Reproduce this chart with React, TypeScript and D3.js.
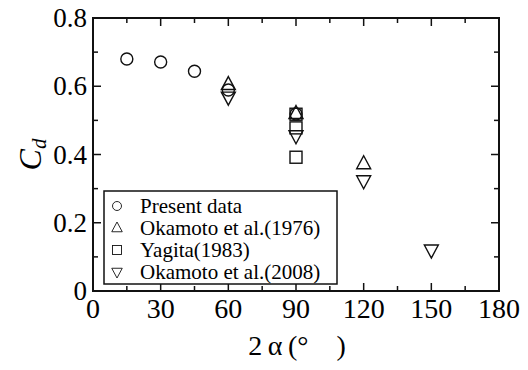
import React, { useEffect, useRef } from 'react';
import * as d3 from 'd3';

// 2alpha (deg) and Cd for each data set
const presentX = [15, 30, 45, 60, 90];
const presentY = [0.68, 0.671, 0.644, 0.589, 0.519];
const oka1976X = [60, 90, 120];
const oka1976Y = [0.605, 0.52, 0.373];
const yagitaX = [90, 90, 90];
const yagitaY = [0.518, 0.478, 0.392];
const oka2008X = [60, 90, 120, 150];
const oka2008Y = [0.568, 0.455, 0.323, 0.12];

const xTicks = [0, 30, 60, 90, 120, 150, 180];
const yTicks = [0, 0.2, 0.4, 0.6, 0.8];
const legendLabels = ['Present data', 'Okamoto et al.(1976)', 'Yagita(1983)', 'Okamoto et al.(2008)'];
const shapes = ['circle', 'up', 'square', 'down'];

const App = () => {
    const svgRef = useRef(null);
    const width = 528;
    const height = 370;
    const left = 93, right = 499, top = 18, bottom = 291;

    useEffect(() => {
        const svg = d3.select(svgRef.current);
        svg.selectAll('*').remove();

        const x = d3.scaleLinear().domain([0, 180]).range([left, right]);
        const y = d3.scaleLinear().domain([0, 0.8]).range([bottom, top]);

        const font = 'Liberation Serif';

        const drawMarker = (g, shape, cx, cy) => {
            if (shape === 'circle') {
                g.append('circle').attr('cx', cx).attr('cy', cy).attr('r', 6);
            } else if (shape === 'square') {
                g.append('rect').attr('x', cx - 6).attr('y', cy - 6).attr('width', 12).attr('height', 12);
            } else if (shape === 'up') {
                g.append('path').attr('d', `M${cx},${cy - 8}L${cx + 7},${cy + 5}L${cx - 7},${cy + 5}Z`);
            } else {
                g.append('path').attr('d', `M${cx},${cy + 8}L${cx + 7},${cy - 5}L${cx - 7},${cy - 5}Z`);
            }
        };

        // minor + major ticks on all sides, pointing inward
        const ticks = svg.append('g').attr('stroke', '#111').attr('stroke-width', 1.5);
        d3.range(0, 181, 15).forEach(v => {
            const len = v % 30 === 0 ? 8 : 5;
            ticks.append('line').attr('x1', x(v)).attr('x2', x(v)).attr('y1', bottom).attr('y2', bottom - len);
            ticks.append('line').attr('x1', x(v)).attr('x2', x(v)).attr('y1', top).attr('y2', top + len);
        });
        d3.range(0, 9).forEach(i => {
            const v = i * 0.1;
            const len = i % 2 === 0 ? 8 : 5;
            ticks.append('line').attr('x1', left).attr('x2', left + len).attr('y1', y(v)).attr('y2', y(v));
            ticks.append('line').attr('x1', right).attr('x2', right - len).attr('y1', y(v)).attr('y2', y(v));
        });

        svg.append('rect')
            .attr('x', left).attr('y', top)
            .attr('width', right - left).attr('height', bottom - top)
            .attr('fill', 'none').attr('stroke', '#111').attr('stroke-width', 2);

        svg.append('g').selectAll('text').data(xTicks).enter().append('text')
            .attr('x', d => x(d)).attr('y', bottom + 27)
            .attr('text-anchor', 'middle')
            .attr('font-family', font).attr('font-size', 28)
            .text(d => d);

        svg.append('g').selectAll('text').data(yTicks).enter().append('text')
            .attr('x', left - 6).attr('y', d => y(d) + 9)
            .attr('text-anchor', 'end')
            .attr('font-family', font).attr('font-size', 27)
            .text(d => d === 0 ? '0' : d.toFixed(1));

        // axis titles
        const yl = svg.append('text')
            .attr('transform', `translate(41,${(top + bottom) / 2}) rotate(-90)`)
            .attr('text-anchor', 'middle')
            .attr('font-family', font).attr('font-size', 32);
        yl.append('tspan').attr('font-style', 'italic').text('C');
        yl.append('tspan').attr('font-style', 'italic').attr('font-size', 21).attr('dy', 5).text('d');

        svg.append('text')
            .attr('x', 297).attr('y', 355)
            .attr('text-anchor', 'middle')
            .attr('font-family', font).attr('font-size', 28)
            .text('2\u2009\u03b1\u2009(\u00b0\u2003)');

        // data
        const sets = [[presentX, presentY], [oka1976X, oka1976Y], [yagitaX, yagitaY], [oka2008X, oka2008Y]];
        const marks = svg.append('g').attr('fill', 'none').attr('stroke', '#111').attr('stroke-width', 1.4);
        sets.forEach(([xs, ys], i) => {
            xs.forEach((v, j) => drawMarker(marks, shapes[i], x(v), y(ys[j])));
        });

        // legend
        const lg = svg.append('g');
        lg.append('rect').attr('x', 104).attr('y', 191).attr('width', 233).attr('height', 93)
            .attr('fill', 'white').attr('stroke', '#111').attr('stroke-width', 1.5);
        const lm = lg.append('g').attr('fill', 'none').attr('stroke', '#111').attr('stroke-width', 1.2);
        legendLabels.forEach((lab, i) => {
            const cy = 206 + i * 22;
            lm.append('g').attr('transform', `translate(117,${cy}) scale(0.75)`).call(g => drawMarker(g, shapes[i], 0, 0));
            lg.append('text').attr('x', 140).attr('y', cy + 7)
                .attr('font-family', font).attr('font-size', 21)
                .text(lab);
        });
    }, []);

    return (
        <svg ref={svgRef} width={width} height={height} style={{ position: 'absolute', left: 0, top: 0, background: 'white' }}></svg>
    );
};

export default App;
